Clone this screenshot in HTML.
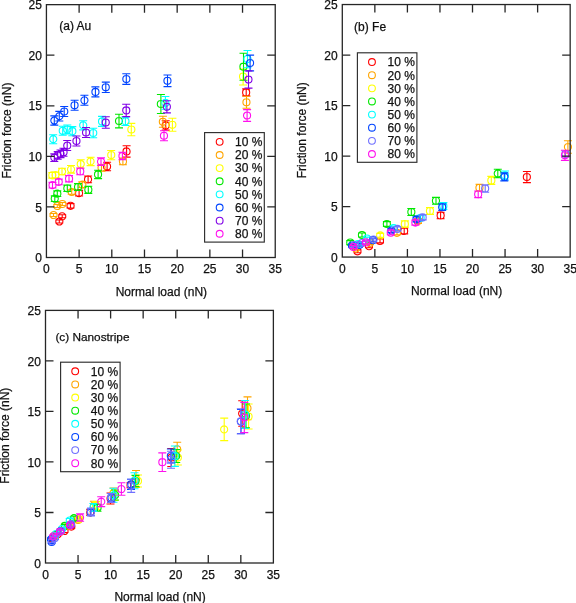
<!DOCTYPE html>
<html><head><meta charset="utf-8"><style>
html,body{margin:0;padding:0;background:#fff;}
body{width:576px;height:603px;overflow:hidden;}
svg{display:block;}
text{filter:grayscale(1);}
text{font-family:"Liberation Sans",sans-serif;font-size:12px;fill:#111;stroke:#111;stroke-width:0.25px;}
.fr{fill:none;stroke:#262626;stroke-width:1.3;}
.tk{fill:none;stroke:#262626;stroke-width:1.3;}
.lg{fill:#fff;stroke:#2e2e2e;stroke-width:1.15;}
.mk{fill:none;stroke-width:1.1;}
</style></head><body>
<svg width="576" height="603" viewBox="0 0 576 603">
<text x="46.43" y="273.4" text-anchor="middle">0</text>
<text x="79.12" y="273.4" text-anchor="middle">5</text>
<text x="111.80" y="273.4" text-anchor="middle">10</text>
<text x="144.49" y="273.4" text-anchor="middle">15</text>
<text x="177.17" y="273.4" text-anchor="middle">20</text>
<text x="209.86" y="273.4" text-anchor="middle">25</text>
<text x="242.54" y="273.4" text-anchor="middle">30</text>
<text x="275.23" y="273.4" text-anchor="middle">35</text>
<text x="41.9" y="262.20" text-anchor="end">0</text>
<text x="41.9" y="211.63" text-anchor="end">5</text>
<text x="41.9" y="161.06" text-anchor="end">10</text>
<text x="41.9" y="110.49" text-anchor="end">15</text>
<text x="41.9" y="59.92" text-anchor="end">20</text>
<text x="41.9" y="9.35" text-anchor="end">25</text>
<path d="M59.3 220.0V223.0M55.3 220.0h8.0M55.3 223.0h8.0M62.2 214.8V217.8M58.2 214.8h8.0M58.2 217.8h8.0M70.5 203.6V208.0M66.5 203.6h8.0M66.5 208.0h8.0M79.1 190.4V196.0M75.1 190.4h8.0M75.1 196.0h8.0M88.1 176.0V182.8M84.1 176.0h8.0M84.1 182.8h8.0M107.1 162.3V170.7M103.1 162.3h8.0M103.1 170.7h8.0M126.6 145.7V157.1M122.6 145.7h8.0M122.6 157.1h8.0M165.7 120.7V130.1M161.7 120.7h8.0M161.7 130.1h8.0M246.2 88.9V95.9M242.2 88.9h8.0M242.2 95.9h8.0M55.8 221.5a3.55 3.55 0 1 0 7.1 0a3.55 3.55 0 1 0 -7.1 0M58.7 216.3a3.55 3.55 0 1 0 7.1 0a3.55 3.55 0 1 0 -7.1 0M67.0 205.8a3.55 3.55 0 1 0 7.1 0a3.55 3.55 0 1 0 -7.1 0M75.5 193.2a3.55 3.55 0 1 0 7.1 0a3.55 3.55 0 1 0 -7.1 0M84.5 179.4a3.55 3.55 0 1 0 7.1 0a3.55 3.55 0 1 0 -7.1 0M103.5 166.5a3.55 3.55 0 1 0 7.1 0a3.55 3.55 0 1 0 -7.1 0M123.0 151.4a3.55 3.55 0 1 0 7.1 0a3.55 3.55 0 1 0 -7.1 0M162.1 125.4a3.55 3.55 0 1 0 7.1 0a3.55 3.55 0 1 0 -7.1 0M242.6 92.4a3.55 3.55 0 1 0 7.1 0a3.55 3.55 0 1 0 -7.1 0" stroke="#ff0000" class="mk"/>
<path d="M53.5 213.5V216.5M49.5 213.5h8.0M49.5 216.5h8.0M57.3 204.5V207.5M53.3 204.5h8.0M53.3 207.5h8.0M62.3 202.5V205.5M58.3 202.5h8.0M58.3 205.5h8.0M71.7 189.8V194.2M67.7 189.8h8.0M67.7 194.2h8.0M82.3 181.9V187.5M78.3 181.9h8.0M78.3 187.5h8.0M101.5 164.5V171.1M97.5 164.5h8.0M97.5 171.1h8.0M122.9 158.1V164.7M118.9 158.1h8.0M118.9 164.7h8.0M162.9 116.3V127.3M158.9 116.3h8.0M158.9 127.3h8.0M246.5 96.3V108.3M242.5 96.3h8.0M242.5 108.3h8.0M50.0 215.0a3.55 3.55 0 1 0 7.1 0a3.55 3.55 0 1 0 -7.1 0M53.8 206.0a3.55 3.55 0 1 0 7.1 0a3.55 3.55 0 1 0 -7.1 0M58.8 204.0a3.55 3.55 0 1 0 7.1 0a3.55 3.55 0 1 0 -7.1 0M68.2 192.0a3.55 3.55 0 1 0 7.1 0a3.55 3.55 0 1 0 -7.1 0M78.8 184.7a3.55 3.55 0 1 0 7.1 0a3.55 3.55 0 1 0 -7.1 0M98.0 167.8a3.55 3.55 0 1 0 7.1 0a3.55 3.55 0 1 0 -7.1 0M119.4 161.4a3.55 3.55 0 1 0 7.1 0a3.55 3.55 0 1 0 -7.1 0M159.3 121.8a3.55 3.55 0 1 0 7.1 0a3.55 3.55 0 1 0 -7.1 0M242.9 102.3a3.55 3.55 0 1 0 7.1 0a3.55 3.55 0 1 0 -7.1 0" stroke="#ffa500" class="mk"/>
<path d="M52.3 172.5V178.1M48.3 172.5h8.0M48.3 178.1h8.0M55.5 172.2V177.8M51.5 172.2h8.0M51.5 177.8h8.0M62.0 168.2V174.8M58.0 168.2h8.0M58.0 174.8h8.0M71.0 165.5V173.1M67.0 165.5h8.0M67.0 173.1h8.0M80.7 159.8V168.2M76.7 159.8h8.0M76.7 168.2h8.0M90.6 157.2V165.6M86.6 157.2h8.0M86.6 165.6h8.0M111.2 150.5V159.7M107.2 150.5h8.0M107.2 159.7h8.0M131.3 123.4V135.8M127.3 123.4h8.0M127.3 135.8h8.0M172.4 118.3V131.3M168.4 118.3h8.0M168.4 131.3h8.0M243.1 69.1V85.0M239.1 69.1h8.0M239.1 85.0h8.0M48.8 175.3a3.55 3.55 0 1 0 7.1 0a3.55 3.55 0 1 0 -7.1 0M52.0 175.0a3.55 3.55 0 1 0 7.1 0a3.55 3.55 0 1 0 -7.1 0M58.5 171.5a3.55 3.55 0 1 0 7.1 0a3.55 3.55 0 1 0 -7.1 0M67.5 169.3a3.55 3.55 0 1 0 7.1 0a3.55 3.55 0 1 0 -7.1 0M77.2 164.0a3.55 3.55 0 1 0 7.1 0a3.55 3.55 0 1 0 -7.1 0M87.0 161.4a3.55 3.55 0 1 0 7.1 0a3.55 3.55 0 1 0 -7.1 0M107.7 155.1a3.55 3.55 0 1 0 7.1 0a3.55 3.55 0 1 0 -7.1 0M127.8 129.6a3.55 3.55 0 1 0 7.1 0a3.55 3.55 0 1 0 -7.1 0M168.8 124.8a3.55 3.55 0 1 0 7.1 0a3.55 3.55 0 1 0 -7.1 0M239.5 76.6a3.55 3.55 0 1 0 7.1 0a3.55 3.55 0 1 0 -7.1 0" stroke="#ffff00" class="mk"/>
<path d="M54.8 195.9V201.5M50.8 195.9h8.0M50.8 201.5h8.0M57.3 190.9V196.5M53.3 190.9h8.0M53.3 196.5h8.0M67.3 185.1V191.5M63.3 185.1h8.0M63.3 191.5h8.0M78.0 183.6V190.4M74.0 183.6h8.0M74.0 190.4h8.0M88.3 186.2V193.4M84.3 186.2h8.0M84.3 193.4h8.0M98.1 170.2V178.6M94.1 170.2h8.0M94.1 178.6h8.0M119.0 114.2V127.9M115.0 114.2h8.0M115.0 127.9h8.0M160.9 94.5V113.5M156.9 94.5h8.0M156.9 113.5h8.0M243.5 53.2V80.2M239.5 53.2h8.0M239.5 80.2h8.0M51.2 198.7a3.55 3.55 0 1 0 7.1 0a3.55 3.55 0 1 0 -7.1 0M53.8 193.7a3.55 3.55 0 1 0 7.1 0a3.55 3.55 0 1 0 -7.1 0M63.8 188.3a3.55 3.55 0 1 0 7.1 0a3.55 3.55 0 1 0 -7.1 0M74.5 187.0a3.55 3.55 0 1 0 7.1 0a3.55 3.55 0 1 0 -7.1 0M84.8 189.8a3.55 3.55 0 1 0 7.1 0a3.55 3.55 0 1 0 -7.1 0M94.5 174.4a3.55 3.55 0 1 0 7.1 0a3.55 3.55 0 1 0 -7.1 0M115.5 121.0a3.55 3.55 0 1 0 7.1 0a3.55 3.55 0 1 0 -7.1 0M157.3 104.0a3.55 3.55 0 1 0 7.1 0a3.55 3.55 0 1 0 -7.1 0M239.9 66.7a3.55 3.55 0 1 0 7.1 0a3.55 3.55 0 1 0 -7.1 0" stroke="#00e800" class="mk"/>
<path d="M53.2 134.7V143.7M49.2 134.7h8.0M49.2 143.7h8.0M62.7 126.3V135.3M58.7 126.3h8.0M58.7 135.3h8.0M67.3 125.0V134.0M63.3 125.0h8.0M63.3 134.0h8.0M72.3 126.6V135.8M68.3 126.6h8.0M68.3 135.8h8.0M83.2 120.7V129.9M79.2 120.7h8.0M79.2 129.9h8.0M93.2 128.2V137.8M89.2 128.2h8.0M89.2 137.8h8.0M102.0 116.4V126.4M98.0 116.4h8.0M98.0 126.4h8.0M125.4 117.1V125.5M121.4 117.1h8.0M121.4 125.5h8.0M165.4 96.5V109.3M161.4 96.5h8.0M161.4 109.3h8.0M247.5 50.5V67.7M243.5 50.5h8.0M243.5 67.7h8.0M49.7 139.2a3.55 3.55 0 1 0 7.1 0a3.55 3.55 0 1 0 -7.1 0M59.2 130.8a3.55 3.55 0 1 0 7.1 0a3.55 3.55 0 1 0 -7.1 0M63.8 129.5a3.55 3.55 0 1 0 7.1 0a3.55 3.55 0 1 0 -7.1 0M68.8 131.2a3.55 3.55 0 1 0 7.1 0a3.55 3.55 0 1 0 -7.1 0M79.7 125.3a3.55 3.55 0 1 0 7.1 0a3.55 3.55 0 1 0 -7.1 0M89.7 133.0a3.55 3.55 0 1 0 7.1 0a3.55 3.55 0 1 0 -7.1 0M98.5 121.4a3.55 3.55 0 1 0 7.1 0a3.55 3.55 0 1 0 -7.1 0M121.9 121.3a3.55 3.55 0 1 0 7.1 0a3.55 3.55 0 1 0 -7.1 0M161.8 102.9a3.55 3.55 0 1 0 7.1 0a3.55 3.55 0 1 0 -7.1 0M243.9 59.1a3.55 3.55 0 1 0 7.1 0a3.55 3.55 0 1 0 -7.1 0" stroke="#00ffff" class="mk"/>
<path d="M54.3 115.9V125.1M50.3 115.9h8.0M50.3 125.1h8.0M59.3 111.4V121.0M55.3 111.4h8.0M55.3 121.0h8.0M64.2 106.5V116.5M60.2 106.5h8.0M60.2 116.5h8.0M74.6 100.3V110.3M70.6 100.3h8.0M70.6 110.3h8.0M84.4 95.3V105.3M80.4 95.3h8.0M80.4 105.3h8.0M95.4 86.9V96.9M91.4 86.9h8.0M91.4 96.9h8.0M105.8 82.1V92.5M101.8 82.1h8.0M101.8 92.5h8.0M126.3 73.8V84.4M122.3 73.8h8.0M122.3 84.4h8.0M167.5 75.0V86.6M163.5 75.0h8.0M163.5 86.6h8.0M250.1 55.1V70.9M246.1 55.1h8.0M246.1 70.9h8.0M50.8 120.5a3.55 3.55 0 1 0 7.1 0a3.55 3.55 0 1 0 -7.1 0M55.8 116.2a3.55 3.55 0 1 0 7.1 0a3.55 3.55 0 1 0 -7.1 0M60.7 111.5a3.55 3.55 0 1 0 7.1 0a3.55 3.55 0 1 0 -7.1 0M71.0 105.3a3.55 3.55 0 1 0 7.1 0a3.55 3.55 0 1 0 -7.1 0M80.9 100.3a3.55 3.55 0 1 0 7.1 0a3.55 3.55 0 1 0 -7.1 0M91.9 91.9a3.55 3.55 0 1 0 7.1 0a3.55 3.55 0 1 0 -7.1 0M102.2 87.3a3.55 3.55 0 1 0 7.1 0a3.55 3.55 0 1 0 -7.1 0M122.8 79.1a3.55 3.55 0 1 0 7.1 0a3.55 3.55 0 1 0 -7.1 0M163.9 80.8a3.55 3.55 0 1 0 7.1 0a3.55 3.55 0 1 0 -7.1 0M246.5 63.0a3.55 3.55 0 1 0 7.1 0a3.55 3.55 0 1 0 -7.1 0" stroke="#0044ff" class="mk"/>
<path d="M54.3 153.9V161.5M50.3 153.9h8.0M50.3 161.5h8.0M57.7 151.6V159.2M53.7 151.6h8.0M53.7 159.2h8.0M60.5 150.0V157.6M56.5 150.0h8.0M56.5 157.6h8.0M63.5 148.3V156.3M59.5 148.3h8.0M59.5 156.3h8.0M67.2 140.5V150.5M63.2 140.5h8.0M63.2 150.5h8.0M76.4 136.0V146.0M72.4 136.0h8.0M72.4 146.0h8.0M86.0 127.5V137.5M82.0 127.5h8.0M82.0 137.5h8.0M105.8 116.7V128.3M101.8 116.7h8.0M101.8 128.3h8.0M126.2 104.2V116.6M122.2 104.2h8.0M122.2 116.6h8.0M166.9 100.7V112.9M162.9 100.7h8.0M162.9 112.9h8.0M248.5 70.9V88.1M244.5 70.9h8.0M244.5 88.1h8.0M50.8 157.7a3.55 3.55 0 1 0 7.1 0a3.55 3.55 0 1 0 -7.1 0M54.2 155.4a3.55 3.55 0 1 0 7.1 0a3.55 3.55 0 1 0 -7.1 0M57.0 153.8a3.55 3.55 0 1 0 7.1 0a3.55 3.55 0 1 0 -7.1 0M60.0 152.3a3.55 3.55 0 1 0 7.1 0a3.55 3.55 0 1 0 -7.1 0M63.7 145.5a3.55 3.55 0 1 0 7.1 0a3.55 3.55 0 1 0 -7.1 0M72.9 141.0a3.55 3.55 0 1 0 7.1 0a3.55 3.55 0 1 0 -7.1 0M82.5 132.5a3.55 3.55 0 1 0 7.1 0a3.55 3.55 0 1 0 -7.1 0M102.2 122.5a3.55 3.55 0 1 0 7.1 0a3.55 3.55 0 1 0 -7.1 0M122.7 110.4a3.55 3.55 0 1 0 7.1 0a3.55 3.55 0 1 0 -7.1 0M163.3 106.8a3.55 3.55 0 1 0 7.1 0a3.55 3.55 0 1 0 -7.1 0M244.9 79.5a3.55 3.55 0 1 0 7.1 0a3.55 3.55 0 1 0 -7.1 0" stroke="#8000e6" class="mk"/>
<path d="M52.5 182.4V188.0M48.5 182.4h8.0M48.5 188.0h8.0M58.8 179.1V184.7M54.8 179.1h8.0M54.8 184.7h8.0M69.0 175.5V181.9M65.0 175.5h8.0M65.0 181.9h8.0M80.2 168.0V174.8M76.2 168.0h8.0M76.2 174.8h8.0M101.0 157.9V165.5M97.0 157.9h8.0M97.0 165.5h8.0M122.4 152.3V159.8M118.4 152.3h8.0M118.4 159.8h8.0M164.0 130.8V140.8M160.0 130.8h8.0M160.0 140.8h8.0M247.1 109.6V121.4M243.1 109.6h8.0M243.1 121.4h8.0M49.0 185.2a3.55 3.55 0 1 0 7.1 0a3.55 3.55 0 1 0 -7.1 0M55.2 181.9a3.55 3.55 0 1 0 7.1 0a3.55 3.55 0 1 0 -7.1 0M65.5 178.7a3.55 3.55 0 1 0 7.1 0a3.55 3.55 0 1 0 -7.1 0M76.7 171.4a3.55 3.55 0 1 0 7.1 0a3.55 3.55 0 1 0 -7.1 0M97.5 161.7a3.55 3.55 0 1 0 7.1 0a3.55 3.55 0 1 0 -7.1 0M118.9 156.1a3.55 3.55 0 1 0 7.1 0a3.55 3.55 0 1 0 -7.1 0M160.4 135.8a3.55 3.55 0 1 0 7.1 0a3.55 3.55 0 1 0 -7.1 0M243.5 115.5a3.55 3.55 0 1 0 7.1 0a3.55 3.55 0 1 0 -7.1 0" stroke="#ff10ee" class="mk"/>
<rect x="204.6" y="132.6" width="59.7" height="109.5" class="lg"/>
<circle cx="219.65" cy="141.85" r="3.4" stroke="#ff0000" class="mk"/>
<text x="235.1" y="146.15">10 %</text>
<circle cx="219.65" cy="154.98" r="3.4" stroke="#ffa500" class="mk"/>
<text x="235.1" y="159.28">20 %</text>
<circle cx="219.65" cy="168.11" r="3.4" stroke="#ffff00" class="mk"/>
<text x="235.1" y="172.41">30 %</text>
<circle cx="219.65" cy="181.24" r="3.4" stroke="#00e800" class="mk"/>
<text x="235.1" y="185.54">40 %</text>
<circle cx="219.65" cy="194.37" r="3.4" stroke="#00ffff" class="mk"/>
<text x="235.1" y="198.67">50 %</text>
<circle cx="219.65" cy="207.50" r="3.4" stroke="#0044ff" class="mk"/>
<text x="235.1" y="211.80">60 %</text>
<circle cx="219.65" cy="220.63" r="3.4" stroke="#8000e6" class="mk"/>
<text x="235.1" y="224.93">70 %</text>
<circle cx="219.65" cy="233.76" r="3.4" stroke="#ff10ee" class="mk"/>
<text x="235.1" y="238.06">80 %</text>
<text x="59.25" y="29.5">(a) Au</text>
<text transform="translate(10.7 178.6) rotate(-90)">Friction force (nN)</text>
<text x="115.7" y="295.7">Normal load (nN)</text>
<text x="342.30" y="273.29999999999995" text-anchor="middle">0</text>
<text x="374.85" y="273.29999999999995" text-anchor="middle">5</text>
<text x="407.41" y="273.29999999999995" text-anchor="middle">10</text>
<text x="439.96" y="273.29999999999995" text-anchor="middle">15</text>
<text x="472.51" y="273.29999999999995" text-anchor="middle">20</text>
<text x="505.06" y="273.29999999999995" text-anchor="middle">25</text>
<text x="537.62" y="273.29999999999995" text-anchor="middle">30</text>
<text x="570.17" y="273.29999999999995" text-anchor="middle">35</text>
<text x="337.6" y="261.77" text-anchor="end">0</text>
<text x="337.6" y="211.26" text-anchor="end">5</text>
<text x="337.6" y="160.76" text-anchor="end">10</text>
<text x="337.6" y="110.25" text-anchor="end">15</text>
<text x="337.6" y="59.75" text-anchor="end">20</text>
<text x="337.6" y="9.24" text-anchor="end">25</text>
<path d="M357.5 249.8V252.8M353.5 249.8h8.0M353.5 252.8h8.0M369.0 244.7V247.7M365.0 244.7h8.0M365.0 247.7h8.0M380.0 238.9V242.9M376.0 238.9h8.0M376.0 242.9h8.0M404.2 228.1V233.9M400.2 228.1h8.0M400.2 233.9h8.0M440.6 212.2V218.7M436.6 212.2h8.0M436.6 218.7h8.0M526.9 171.5V182.6M522.9 171.5h8.0M522.9 182.6h8.0M353.9 251.3a3.55 3.55 0 1 0 7.1 0a3.55 3.55 0 1 0 -7.1 0M365.4 246.2a3.55 3.55 0 1 0 7.1 0a3.55 3.55 0 1 0 -7.1 0M376.4 240.9a3.55 3.55 0 1 0 7.1 0a3.55 3.55 0 1 0 -7.1 0M400.6 231.0a3.55 3.55 0 1 0 7.1 0a3.55 3.55 0 1 0 -7.1 0M437.1 215.4a3.55 3.55 0 1 0 7.1 0a3.55 3.55 0 1 0 -7.1 0M523.3 177.1a3.55 3.55 0 1 0 7.1 0a3.55 3.55 0 1 0 -7.1 0" stroke="#ff0000" class="mk"/>
<path d="M356.0 247.0V250.0M352.0 247.0h8.0M352.0 250.0h8.0M370.0 241.5V244.5M366.0 241.5h8.0M366.0 244.5h8.0M397.0 230.8V234.8M393.0 230.8h8.0M393.0 234.8h8.0M418.0 218.5V223.5M414.0 218.5h8.0M414.0 223.5h8.0M479.5 184.3V191.3M475.5 184.3h8.0M475.5 191.3h8.0M567.9 140.7V153.3M563.9 140.7h8.0M563.9 153.3h8.0M352.4 248.5a3.55 3.55 0 1 0 7.1 0a3.55 3.55 0 1 0 -7.1 0M366.4 243.0a3.55 3.55 0 1 0 7.1 0a3.55 3.55 0 1 0 -7.1 0M393.4 232.8a3.55 3.55 0 1 0 7.1 0a3.55 3.55 0 1 0 -7.1 0M414.4 221.0a3.55 3.55 0 1 0 7.1 0a3.55 3.55 0 1 0 -7.1 0M475.9 187.8a3.55 3.55 0 1 0 7.1 0a3.55 3.55 0 1 0 -7.1 0M564.4 147.0a3.55 3.55 0 1 0 7.1 0a3.55 3.55 0 1 0 -7.1 0" stroke="#ffa500" class="mk"/>
<path d="M380.2 233.4V237.4M376.2 233.4h8.0M376.2 237.4h8.0M404.9 220.9V227.1M400.9 220.9h8.0M400.9 227.1h8.0M430.0 207.6V214.4M426.0 207.6h8.0M426.0 214.4h8.0M491.3 176.4V184.4M487.3 176.4h8.0M487.3 184.4h8.0M376.6 235.4a3.55 3.55 0 1 0 7.1 0a3.55 3.55 0 1 0 -7.1 0M401.3 224.0a3.55 3.55 0 1 0 7.1 0a3.55 3.55 0 1 0 -7.1 0M426.4 211.0a3.55 3.55 0 1 0 7.1 0a3.55 3.55 0 1 0 -7.1 0M487.8 180.4a3.55 3.55 0 1 0 7.1 0a3.55 3.55 0 1 0 -7.1 0" stroke="#ffff00" class="mk"/>
<path d="M350.2 240.6V244.6M346.2 240.6h8.0M346.2 244.6h8.0M362.0 233.0V237.0M358.0 233.0h8.0M358.0 237.0h8.0M386.9 221.6V226.4M382.9 221.6h8.0M382.9 226.4h8.0M411.3 208.5V215.5M407.3 208.5h8.0M407.3 215.5h8.0M436.0 197.4V204.2M432.0 197.4h8.0M432.0 204.2h8.0M497.8 169.3V177.7M493.8 169.3h8.0M493.8 177.7h8.0M346.7 242.6a3.55 3.55 0 1 0 7.1 0a3.55 3.55 0 1 0 -7.1 0M358.4 235.0a3.55 3.55 0 1 0 7.1 0a3.55 3.55 0 1 0 -7.1 0M383.3 224.0a3.55 3.55 0 1 0 7.1 0a3.55 3.55 0 1 0 -7.1 0M407.8 212.0a3.55 3.55 0 1 0 7.1 0a3.55 3.55 0 1 0 -7.1 0M432.4 200.8a3.55 3.55 0 1 0 7.1 0a3.55 3.55 0 1 0 -7.1 0M494.2 173.5a3.55 3.55 0 1 0 7.1 0a3.55 3.55 0 1 0 -7.1 0" stroke="#00e800" class="mk"/>
<path d="M358.0 242.5V245.5M354.0 242.5h8.0M354.0 245.5h8.0M367.0 237.1V240.1M363.0 237.1h8.0M363.0 240.1h8.0M393.7 226.0V230.0M389.7 226.0h8.0M389.7 230.0h8.0M420.6 215.4V220.4M416.6 215.4h8.0M416.6 220.4h8.0M443.4 202.6V209.4M439.4 202.6h8.0M439.4 209.4h8.0M505.0 171.0V180.0M501.0 171.0h8.0M501.0 180.0h8.0M354.4 244.0a3.55 3.55 0 1 0 7.1 0a3.55 3.55 0 1 0 -7.1 0M363.4 238.6a3.55 3.55 0 1 0 7.1 0a3.55 3.55 0 1 0 -7.1 0M390.1 228.0a3.55 3.55 0 1 0 7.1 0a3.55 3.55 0 1 0 -7.1 0M417.1 217.9a3.55 3.55 0 1 0 7.1 0a3.55 3.55 0 1 0 -7.1 0M439.8 206.0a3.55 3.55 0 1 0 7.1 0a3.55 3.55 0 1 0 -7.1 0M501.4 175.5a3.55 3.55 0 1 0 7.1 0a3.55 3.55 0 1 0 -7.1 0" stroke="#00ffff" class="mk"/>
<path d="M352.0 244.0V247.0M348.0 244.0h8.0M348.0 247.0h8.0M359.6 243.3V246.3M355.6 243.3h8.0M355.6 246.3h8.0M373.0 238.7V241.7M369.0 238.7h8.0M369.0 241.7h8.0M391.3 228.5V232.5M387.3 228.5h8.0M387.3 232.5h8.0M416.5 216.9V221.9M412.5 216.9h8.0M412.5 221.9h8.0M442.2 203.9V210.4M438.2 203.9h8.0M438.2 210.4h8.0M504.3 172.9V180.9M500.3 172.9h8.0M500.3 180.9h8.0M348.4 245.5a3.55 3.55 0 1 0 7.1 0a3.55 3.55 0 1 0 -7.1 0M356.1 244.8a3.55 3.55 0 1 0 7.1 0a3.55 3.55 0 1 0 -7.1 0M369.4 240.2a3.55 3.55 0 1 0 7.1 0a3.55 3.55 0 1 0 -7.1 0M387.8 230.5a3.55 3.55 0 1 0 7.1 0a3.55 3.55 0 1 0 -7.1 0M412.9 219.4a3.55 3.55 0 1 0 7.1 0a3.55 3.55 0 1 0 -7.1 0M438.6 207.2a3.55 3.55 0 1 0 7.1 0a3.55 3.55 0 1 0 -7.1 0M500.8 176.9a3.55 3.55 0 1 0 7.1 0a3.55 3.55 0 1 0 -7.1 0" stroke="#0044ff" class="mk"/>
<path d="M355.0 243.5V246.5M351.0 243.5h8.0M351.0 246.5h8.0M362.0 241.5V244.5M358.0 241.5h8.0M358.0 244.5h8.0M373.5 238.0V241.0M369.5 238.0h8.0M369.5 241.0h8.0M397.4 226.9V230.9M393.4 226.9h8.0M393.4 230.9h8.0M422.7 214.9V219.9M418.7 214.9h8.0M418.7 219.9h8.0M485.2 184.7V192.3M481.2 184.7h8.0M481.2 192.3h8.0M565.5 151.0V157.0M561.5 151.0h8.0M561.5 157.0h8.0M351.4 245.0a3.55 3.55 0 1 0 7.1 0a3.55 3.55 0 1 0 -7.1 0M358.4 243.0a3.55 3.55 0 1 0 7.1 0a3.55 3.55 0 1 0 -7.1 0M369.9 239.5a3.55 3.55 0 1 0 7.1 0a3.55 3.55 0 1 0 -7.1 0M393.8 228.9a3.55 3.55 0 1 0 7.1 0a3.55 3.55 0 1 0 -7.1 0M419.1 217.4a3.55 3.55 0 1 0 7.1 0a3.55 3.55 0 1 0 -7.1 0M481.6 188.5a3.55 3.55 0 1 0 7.1 0a3.55 3.55 0 1 0 -7.1 0M562.0 154.0a3.55 3.55 0 1 0 7.1 0a3.55 3.55 0 1 0 -7.1 0" stroke="#7070ff" class="mk"/>
<path d="M353.4 245.4V248.4M349.4 245.4h8.0M349.4 248.4h8.0M365.9 240.9V243.9M361.9 240.9h8.0M361.9 243.9h8.0M390.8 230.7V234.7M386.8 230.7h8.0M386.8 234.7h8.0M415.4 220.1V225.1M411.4 220.1h8.0M411.4 225.1h8.0M478.2 191.0V197.6M474.2 191.0h8.0M474.2 197.6h8.0M564.9 150.2V160.4M560.9 150.2h8.0M560.9 160.4h8.0M349.8 246.9a3.55 3.55 0 1 0 7.1 0a3.55 3.55 0 1 0 -7.1 0M362.3 242.4a3.55 3.55 0 1 0 7.1 0a3.55 3.55 0 1 0 -7.1 0M387.2 232.7a3.55 3.55 0 1 0 7.1 0a3.55 3.55 0 1 0 -7.1 0M411.8 222.6a3.55 3.55 0 1 0 7.1 0a3.55 3.55 0 1 0 -7.1 0M474.6 194.3a3.55 3.55 0 1 0 7.1 0a3.55 3.55 0 1 0 -7.1 0M561.4 155.3a3.55 3.55 0 1 0 7.1 0a3.55 3.55 0 1 0 -7.1 0" stroke="#ff10ee" class="mk"/>
<rect x="357.4" y="52.8" width="59.5" height="109.5" class="lg"/>
<circle cx="371.96" cy="62.07" r="3.4" stroke="#ff0000" class="mk"/>
<text x="387.6" y="66.37">10 %</text>
<circle cx="371.96" cy="75.20" r="3.4" stroke="#ffa500" class="mk"/>
<text x="387.6" y="79.50">20 %</text>
<circle cx="371.96" cy="88.33" r="3.4" stroke="#ffff00" class="mk"/>
<text x="387.6" y="92.63">30 %</text>
<circle cx="371.96" cy="101.46" r="3.4" stroke="#00e800" class="mk"/>
<text x="387.6" y="105.76">40 %</text>
<circle cx="371.96" cy="114.59" r="3.4" stroke="#00ffff" class="mk"/>
<text x="387.6" y="118.89">50 %</text>
<circle cx="371.96" cy="127.72" r="3.4" stroke="#0044ff" class="mk"/>
<text x="387.6" y="132.02">60 %</text>
<circle cx="371.96" cy="140.85" r="3.4" stroke="#7070ff" class="mk"/>
<text x="387.6" y="145.15">70 %</text>
<circle cx="371.96" cy="153.98" r="3.4" stroke="#ff10ee" class="mk"/>
<text x="387.6" y="158.28">80 %</text>
<text x="354.1" y="31.0">(b) Fe</text>
<text transform="translate(305.7 178.3) rotate(-90)">Friction force (nN)</text>
<text x="410.9" y="295.4">Normal load (nN)</text>
<text x="45.50" y="578.9" text-anchor="middle">0</text>
<text x="78.05" y="578.9" text-anchor="middle">5</text>
<text x="110.61" y="578.9" text-anchor="middle">10</text>
<text x="143.16" y="578.9" text-anchor="middle">15</text>
<text x="175.72" y="578.9" text-anchor="middle">20</text>
<text x="208.27" y="578.9" text-anchor="middle">25</text>
<text x="240.83" y="578.9" text-anchor="middle">30</text>
<text x="273.38" y="578.9" text-anchor="middle">35</text>
<text x="40.9" y="567.70" text-anchor="end">0</text>
<text x="40.9" y="517.18" text-anchor="end">5</text>
<text x="40.9" y="466.66" text-anchor="end">10</text>
<text x="40.9" y="416.14" text-anchor="end">15</text>
<text x="40.9" y="365.62" text-anchor="end">20</text>
<text x="40.9" y="315.10" text-anchor="end">25</text>
<path d="M52.0 538.5V541.5M48.0 538.5h8.0M48.0 541.5h8.0M58.0 532.5V535.5M54.0 532.5h8.0M54.0 535.5h8.0M64.5 529.5V532.5M60.5 529.5h8.0M60.5 532.5h8.0M71.3 525.1V528.1M67.3 525.1h8.0M67.3 528.1h8.0M90.3 509.4V515.4M86.3 509.4h8.0M86.3 515.4h8.0M110.5 493.0V504.0M106.5 493.0h8.0M106.5 504.0h8.0M130.5 482.7V487.7M126.5 482.7h8.0M126.5 487.7h8.0M171.3 448.5V466.5M167.3 448.5h8.0M167.3 466.5h8.0M242.2 400.8V426.2M238.2 400.8h8.0M238.2 426.2h8.0M48.5 540.0a3.55 3.55 0 1 0 7.1 0a3.55 3.55 0 1 0 -7.1 0M54.5 534.0a3.55 3.55 0 1 0 7.1 0a3.55 3.55 0 1 0 -7.1 0M61.0 531.0a3.55 3.55 0 1 0 7.1 0a3.55 3.55 0 1 0 -7.1 0M67.8 526.6a3.55 3.55 0 1 0 7.1 0a3.55 3.55 0 1 0 -7.1 0M86.8 512.4a3.55 3.55 0 1 0 7.1 0a3.55 3.55 0 1 0 -7.1 0M107.0 498.5a3.55 3.55 0 1 0 7.1 0a3.55 3.55 0 1 0 -7.1 0M127.0 485.2a3.55 3.55 0 1 0 7.1 0a3.55 3.55 0 1 0 -7.1 0M167.8 457.5a3.55 3.55 0 1 0 7.1 0a3.55 3.55 0 1 0 -7.1 0M238.6 413.5a3.55 3.55 0 1 0 7.1 0a3.55 3.55 0 1 0 -7.1 0" stroke="#ff0000" class="mk"/>
<path d="M53.0 536.5V539.5M49.0 536.5h8.0M49.0 539.5h8.0M60.0 530.5V533.5M56.0 530.5h8.0M56.0 533.5h8.0M68.0 524.5V527.5M64.0 524.5h8.0M64.0 527.5h8.0M78.0 518.0V522.0M74.0 518.0h8.0M74.0 522.0h8.0M93.9 501.2V509.8M89.9 501.2h8.0M89.9 509.8h8.0M113.5 488.0V498.0M109.5 488.0h8.0M109.5 498.0h8.0M136.0 470.5V487.5M132.0 470.5h8.0M132.0 487.5h8.0M177.2 442.3V456.3M173.2 442.3h8.0M173.2 456.3h8.0M247.5 396.9V419.7M243.5 396.9h8.0M243.5 419.7h8.0M49.5 538.0a3.55 3.55 0 1 0 7.1 0a3.55 3.55 0 1 0 -7.1 0M56.5 532.0a3.55 3.55 0 1 0 7.1 0a3.55 3.55 0 1 0 -7.1 0M64.5 526.0a3.55 3.55 0 1 0 7.1 0a3.55 3.55 0 1 0 -7.1 0M74.5 520.0a3.55 3.55 0 1 0 7.1 0a3.55 3.55 0 1 0 -7.1 0M90.4 505.5a3.55 3.55 0 1 0 7.1 0a3.55 3.55 0 1 0 -7.1 0M110.0 493.0a3.55 3.55 0 1 0 7.1 0a3.55 3.55 0 1 0 -7.1 0M132.4 479.0a3.55 3.55 0 1 0 7.1 0a3.55 3.55 0 1 0 -7.1 0M173.6 449.3a3.55 3.55 0 1 0 7.1 0a3.55 3.55 0 1 0 -7.1 0M243.9 408.3a3.55 3.55 0 1 0 7.1 0a3.55 3.55 0 1 0 -7.1 0" stroke="#ffa500" class="mk"/>
<path d="M54.0 535.5V538.5M50.0 535.5h8.0M50.0 538.5h8.0M61.0 529.5V532.5M57.0 529.5h8.0M57.0 532.5h8.0M69.0 523.5V526.5M65.0 523.5h8.0M65.0 526.5h8.0M79.0 517.0V521.0M75.0 517.0h8.0M75.0 521.0h8.0M96.0 501.6V509.6M92.0 501.6h8.0M92.0 509.6h8.0M114.5 490.5V500.5M110.5 490.5h8.0M110.5 500.5h8.0M138.0 475.0V487.0M134.0 475.0h8.0M134.0 487.0h8.0M177.9 450.0V465.0M173.9 450.0h8.0M173.9 465.0h8.0M224.2 418.1V440.6M220.2 418.1h8.0M220.2 440.6h8.0M248.6 404.0V429.0M244.6 404.0h8.0M244.6 429.0h8.0M50.5 537.0a3.55 3.55 0 1 0 7.1 0a3.55 3.55 0 1 0 -7.1 0M57.5 531.0a3.55 3.55 0 1 0 7.1 0a3.55 3.55 0 1 0 -7.1 0M65.5 525.0a3.55 3.55 0 1 0 7.1 0a3.55 3.55 0 1 0 -7.1 0M75.5 519.0a3.55 3.55 0 1 0 7.1 0a3.55 3.55 0 1 0 -7.1 0M92.5 505.6a3.55 3.55 0 1 0 7.1 0a3.55 3.55 0 1 0 -7.1 0M111.0 495.5a3.55 3.55 0 1 0 7.1 0a3.55 3.55 0 1 0 -7.1 0M134.4 481.0a3.55 3.55 0 1 0 7.1 0a3.55 3.55 0 1 0 -7.1 0M174.3 457.5a3.55 3.55 0 1 0 7.1 0a3.55 3.55 0 1 0 -7.1 0M220.6 429.4a3.55 3.55 0 1 0 7.1 0a3.55 3.55 0 1 0 -7.1 0M245.0 416.5a3.55 3.55 0 1 0 7.1 0a3.55 3.55 0 1 0 -7.1 0" stroke="#ffff00" class="mk"/>
<path d="M55.0 533.5V536.5M51.0 533.5h8.0M51.0 536.5h8.0M64.8 524.4V527.4M60.8 524.4h8.0M60.8 527.4h8.0M73.9 516.2V520.2M69.9 516.2h8.0M69.9 520.2h8.0M97.5 504.2V511.2M93.5 504.2h8.0M93.5 511.2h8.0M115.0 490.0V500.0M111.0 490.0h8.0M111.0 500.0h8.0M135.5 475.4V486.6M131.5 475.4h8.0M131.5 486.6h8.0M176.2 449.5V462.5M172.2 449.5h8.0M172.2 462.5h8.0M246.0 404.0V427.8M242.0 404.0h8.0M242.0 427.8h8.0M51.5 535.0a3.55 3.55 0 1 0 7.1 0a3.55 3.55 0 1 0 -7.1 0M61.2 525.9a3.55 3.55 0 1 0 7.1 0a3.55 3.55 0 1 0 -7.1 0M70.4 518.2a3.55 3.55 0 1 0 7.1 0a3.55 3.55 0 1 0 -7.1 0M94.0 507.7a3.55 3.55 0 1 0 7.1 0a3.55 3.55 0 1 0 -7.1 0M111.5 495.0a3.55 3.55 0 1 0 7.1 0a3.55 3.55 0 1 0 -7.1 0M131.9 481.0a3.55 3.55 0 1 0 7.1 0a3.55 3.55 0 1 0 -7.1 0M172.6 456.0a3.55 3.55 0 1 0 7.1 0a3.55 3.55 0 1 0 -7.1 0M242.4 415.9a3.55 3.55 0 1 0 7.1 0a3.55 3.55 0 1 0 -7.1 0" stroke="#00e800" class="mk"/>
<path d="M56.0 532.5V535.5M52.0 532.5h8.0M52.0 535.5h8.0M62.0 527.5V530.5M58.0 527.5h8.0M58.0 530.5h8.0M69.7 518.5V522.5M65.7 518.5h8.0M65.7 522.5h8.0M93.4 503.5V511.5M89.4 503.5h8.0M89.4 511.5h8.0M113.5 488.3V502.3M109.5 488.3h8.0M109.5 502.3h8.0M134.5 472.8V488.8M130.5 472.8h8.0M130.5 488.8h8.0M174.9 446.0V466.4M170.9 446.0h8.0M170.9 466.4h8.0M245.1 400.5V428.5M241.1 400.5h8.0M241.1 428.5h8.0M52.5 534.0a3.55 3.55 0 1 0 7.1 0a3.55 3.55 0 1 0 -7.1 0M58.5 529.0a3.55 3.55 0 1 0 7.1 0a3.55 3.55 0 1 0 -7.1 0M66.2 520.5a3.55 3.55 0 1 0 7.1 0a3.55 3.55 0 1 0 -7.1 0M89.9 507.5a3.55 3.55 0 1 0 7.1 0a3.55 3.55 0 1 0 -7.1 0M110.0 495.3a3.55 3.55 0 1 0 7.1 0a3.55 3.55 0 1 0 -7.1 0M130.9 480.8a3.55 3.55 0 1 0 7.1 0a3.55 3.55 0 1 0 -7.1 0M171.3 456.2a3.55 3.55 0 1 0 7.1 0a3.55 3.55 0 1 0 -7.1 0M241.5 414.5a3.55 3.55 0 1 0 7.1 0a3.55 3.55 0 1 0 -7.1 0" stroke="#00ffff" class="mk"/>
<path d="M51.6 540.5V543.5M47.6 540.5h8.0M47.6 543.5h8.0M51.0 537.7V540.7M47.0 537.7h8.0M47.0 540.7h8.0M60.5 529.0V533.0M56.5 529.0h8.0M56.5 533.0h8.0M70.5 523.0V527.0M66.5 523.0h8.0M66.5 527.0h8.0M90.8 509.0V515.8M86.8 509.0h8.0M86.8 515.8h8.0M111.4 493.8V501.8M107.4 493.8h8.0M107.4 501.8h8.0M131.0 479.2V489.4M127.0 479.2h8.0M127.0 489.4h8.0M170.9 449.0V463.0M166.9 449.0h8.0M166.9 463.0h8.0M241.0 409.5V433.5M237.0 409.5h8.0M237.0 433.5h8.0M48.1 542.0a3.55 3.55 0 1 0 7.1 0a3.55 3.55 0 1 0 -7.1 0M47.5 539.2a3.55 3.55 0 1 0 7.1 0a3.55 3.55 0 1 0 -7.1 0M57.0 531.0a3.55 3.55 0 1 0 7.1 0a3.55 3.55 0 1 0 -7.1 0M67.0 525.0a3.55 3.55 0 1 0 7.1 0a3.55 3.55 0 1 0 -7.1 0M87.2 512.4a3.55 3.55 0 1 0 7.1 0a3.55 3.55 0 1 0 -7.1 0M107.9 497.8a3.55 3.55 0 1 0 7.1 0a3.55 3.55 0 1 0 -7.1 0M127.5 484.3a3.55 3.55 0 1 0 7.1 0a3.55 3.55 0 1 0 -7.1 0M167.3 456.0a3.55 3.55 0 1 0 7.1 0a3.55 3.55 0 1 0 -7.1 0M237.4 421.5a3.55 3.55 0 1 0 7.1 0a3.55 3.55 0 1 0 -7.1 0" stroke="#0044ff" class="mk"/>
<path d="M52.0 539.5V542.5M48.0 539.5h8.0M48.0 542.5h8.0M55.0 536.5V539.5M51.0 536.5h8.0M51.0 539.5h8.0M61.0 529.5V532.5M57.0 529.5h8.0M57.0 532.5h8.0M71.0 522.0V526.0M67.0 522.0h8.0M67.0 526.0h8.0M91.0 508.0V515.6M87.0 508.0h8.0M87.0 515.6h8.0M111.0 493.5V502.5M107.0 493.5h8.0M107.0 502.5h8.0M131.2 479.2V492.4M127.2 479.2h8.0M127.2 492.4h8.0M171.0 451.2V468.2M167.0 451.2h8.0M167.0 468.2h8.0M240.8 408.7V433.9M236.8 408.7h8.0M236.8 433.9h8.0M48.5 541.0a3.55 3.55 0 1 0 7.1 0a3.55 3.55 0 1 0 -7.1 0M51.5 538.0a3.55 3.55 0 1 0 7.1 0a3.55 3.55 0 1 0 -7.1 0M57.5 531.0a3.55 3.55 0 1 0 7.1 0a3.55 3.55 0 1 0 -7.1 0M67.5 524.0a3.55 3.55 0 1 0 7.1 0a3.55 3.55 0 1 0 -7.1 0M87.5 511.8a3.55 3.55 0 1 0 7.1 0a3.55 3.55 0 1 0 -7.1 0M107.5 498.0a3.55 3.55 0 1 0 7.1 0a3.55 3.55 0 1 0 -7.1 0M127.6 485.8a3.55 3.55 0 1 0 7.1 0a3.55 3.55 0 1 0 -7.1 0M167.4 459.7a3.55 3.55 0 1 0 7.1 0a3.55 3.55 0 1 0 -7.1 0M237.2 421.3a3.55 3.55 0 1 0 7.1 0a3.55 3.55 0 1 0 -7.1 0" stroke="#7070ff" class="mk"/>
<path d="M53.3 534.9V537.9M49.3 534.9h8.0M49.3 537.9h8.0M59.9 530.3V533.3M55.9 530.3h8.0M55.9 533.3h8.0M70.0 523.8V526.8M66.0 523.8h8.0M66.0 526.8h8.0M80.1 513.9V521.3M76.1 513.9h8.0M76.1 521.3h8.0M101.2 496.8V506.6M97.2 496.8h8.0M97.2 506.6h8.0M121.4 482.8V495.3M117.4 482.8h8.0M117.4 495.3h8.0M162.3 452.9V471.5M158.3 452.9h8.0M158.3 471.5h8.0M244.3 402.4V432.6M240.3 402.4h8.0M240.3 432.6h8.0M49.8 536.4a3.55 3.55 0 1 0 7.1 0a3.55 3.55 0 1 0 -7.1 0M56.4 531.8a3.55 3.55 0 1 0 7.1 0a3.55 3.55 0 1 0 -7.1 0M66.5 525.3a3.55 3.55 0 1 0 7.1 0a3.55 3.55 0 1 0 -7.1 0M76.5 517.6a3.55 3.55 0 1 0 7.1 0a3.55 3.55 0 1 0 -7.1 0M97.7 501.7a3.55 3.55 0 1 0 7.1 0a3.55 3.55 0 1 0 -7.1 0M117.9 489.1a3.55 3.55 0 1 0 7.1 0a3.55 3.55 0 1 0 -7.1 0M158.8 462.2a3.55 3.55 0 1 0 7.1 0a3.55 3.55 0 1 0 -7.1 0M240.8 417.5a3.55 3.55 0 1 0 7.1 0a3.55 3.55 0 1 0 -7.1 0" stroke="#ff10ee" class="mk"/>
<rect x="60.6" y="362.2" width="59.5" height="109.5" class="lg"/>
<circle cx="75.2" cy="371.30" r="3.4" stroke="#ff0000" class="mk"/>
<text x="90.8" y="375.60">10 %</text>
<circle cx="75.2" cy="384.43" r="3.4" stroke="#ffa500" class="mk"/>
<text x="90.8" y="388.73">20 %</text>
<circle cx="75.2" cy="397.56" r="3.4" stroke="#ffff00" class="mk"/>
<text x="90.8" y="401.86">30 %</text>
<circle cx="75.2" cy="410.69" r="3.4" stroke="#00e800" class="mk"/>
<text x="90.8" y="414.99">40 %</text>
<circle cx="75.2" cy="423.82" r="3.4" stroke="#00ffff" class="mk"/>
<text x="90.8" y="428.12">50 %</text>
<circle cx="75.2" cy="436.95" r="3.4" stroke="#0044ff" class="mk"/>
<text x="90.8" y="441.25">60 %</text>
<circle cx="75.2" cy="450.08" r="3.4" stroke="#7070ff" class="mk"/>
<text x="90.8" y="454.38">70 %</text>
<circle cx="75.2" cy="463.21" r="3.4" stroke="#ff10ee" class="mk"/>
<text x="90.8" y="467.51">80 %</text>
<text x="55.4" y="340.8" style="font-size:11.8px">(c) Nanostripe</text>
<text transform="translate(8.85 483.7) rotate(-90)">Friction force (nN)</text>
<text x="114.4" y="601.2">Normal load (nN)</text>
<rect x="46.43" y="4.65" width="228.80" height="252.85" class="fr"/>
<path d="M79.12 257.5v-8M79.12 4.65v8M111.80 257.5v-8M111.80 4.65v8M144.49 257.5v-8M144.49 4.65v8M177.17 257.5v-8M177.17 4.65v8M209.86 257.5v-8M209.86 4.65v8M242.54 257.5v-8M242.54 4.65v8M46.43 206.93h8M275.23 206.93h-8M46.43 156.36h8M275.23 156.36h-8M46.43 105.79h8M275.23 105.79h-8M46.43 55.22h8M275.23 55.22h-8" class="tk"/>
<rect x="342.3" y="4.54" width="227.87" height="252.53" class="fr"/>
<path d="M374.85 257.07v-8M374.85 4.54v8M407.41 257.07v-8M407.41 4.54v8M439.96 257.07v-8M439.96 4.54v8M472.51 257.07v-8M472.51 4.54v8M505.06 257.07v-8M505.06 4.54v8M537.62 257.07v-8M537.62 4.54v8M342.3 206.56h8M570.17 206.56h-8M342.3 156.06h8M570.17 156.06h-8M342.3 105.55h8M570.17 105.55h-8M342.3 55.05h8M570.17 55.05h-8" class="tk"/>
<rect x="45.5" y="310.4" width="227.88" height="252.60" class="fr"/>
<path d="M78.05 563.0v-8M78.05 310.4v8M110.61 563.0v-8M110.61 310.4v8M143.16 563.0v-8M143.16 310.4v8M175.72 563.0v-8M175.72 310.4v8M208.27 563.0v-8M208.27 310.4v8M240.83 563.0v-8M240.83 310.4v8M45.5 512.48h8M273.38 512.48h-8M45.5 461.96h8M273.38 461.96h-8M45.5 411.44h8M273.38 411.44h-8M45.5 360.92h8M273.38 360.92h-8" class="tk"/>
</svg>
</body></html>
